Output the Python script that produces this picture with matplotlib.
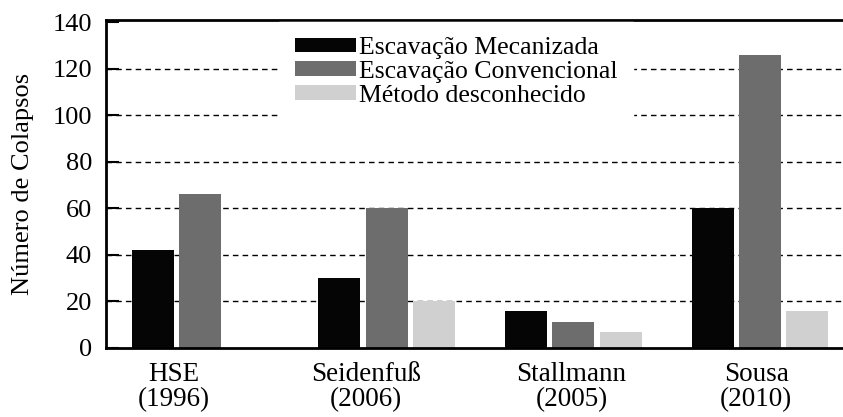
import numpy as np
import matplotlib
matplotlib.use("Agg")
import matplotlib.pyplot as plt

# dados
estudos = ["HSE\n(1996)", "Seidenfuß\n(2006)", "Stallmann\n(2005)", "Sousa\n(2010)"]
mecanizada = [42, 30, 16, 60]
convencional = [66, 60, 11, 126]
desconhecido = [0, 20, 7, 16]
yticks = [0, 20, 40, 60, 80, 100, 120, 140]

FONTE = ["Liberation Serif", "DejaVu Serif"]
plt.rcParams["font.family"] = FONTE

CORES = ["#050505", "#6d6d6d", "#d0d0d0"]
ROTULOS = ["Escavação Mecanizada", "Escavação Convencional", "Método desconhecido"]

fig = plt.figure(figsize=(8.43, 4.17), dpi=100)
ax = fig.add_axes([0.1257, 0.1655, 0.8743, 0.7865])

x = np.arange(len(estudos))
passo = 0.253
largura = 0.226
for k, (serie, cor, rot) in enumerate(zip([mecanizada, convencional, desconhecido], CORES, ROTULOS)):
    ax.bar(x + (k - 1) * passo, serie, width=largura, color=cor, linewidth=0, label=rot, zorder=2)

ax.set_xlim(-0.503, 3.444)
ax.set_ylim(0, 141)
ax.set_yticks(yticks)
ax.tick_params(axis="y", direction="in", length=9, width=1.5, labelsize=19, pad=10)

# rótulos das categorias, ligeiramente desalinhados como no original
ax.set_xticks(x + np.array([-0.14, -0.11, -0.01, -0.02]))
ax.set_xticklabels(estudos, fontsize=19.5, linespacing=1.0)
ax.tick_params(axis="x", length=0, pad=10)

for g in yticks[1:-1]:
    ax.axhline(g, color="black", linewidth=1.0, linestyle=(0, (4, 3)), zorder=1)

for s in ["left", "top", "bottom"]:
    ax.spines[s].set_linewidth(2)
ax.spines["right"].set_visible(False)

ax.set_ylabel("Número de Colapsos", fontsize=19, labelpad=13)

leg = ax.legend(loc="upper left", bbox_to_anchor=(0.235, 0.995),
                prop={"family": FONTE, "size": 18.5},
                frameon=True, fancybox=False, framealpha=1, edgecolor="white",
                handlelength=2.4, handleheight=0.5, handletextpad=0.1,
                labelspacing=0.07, borderpad=0.6, borderaxespad=0)
leg.set_zorder(3)

fig.savefig("out.png", dpi=100)
